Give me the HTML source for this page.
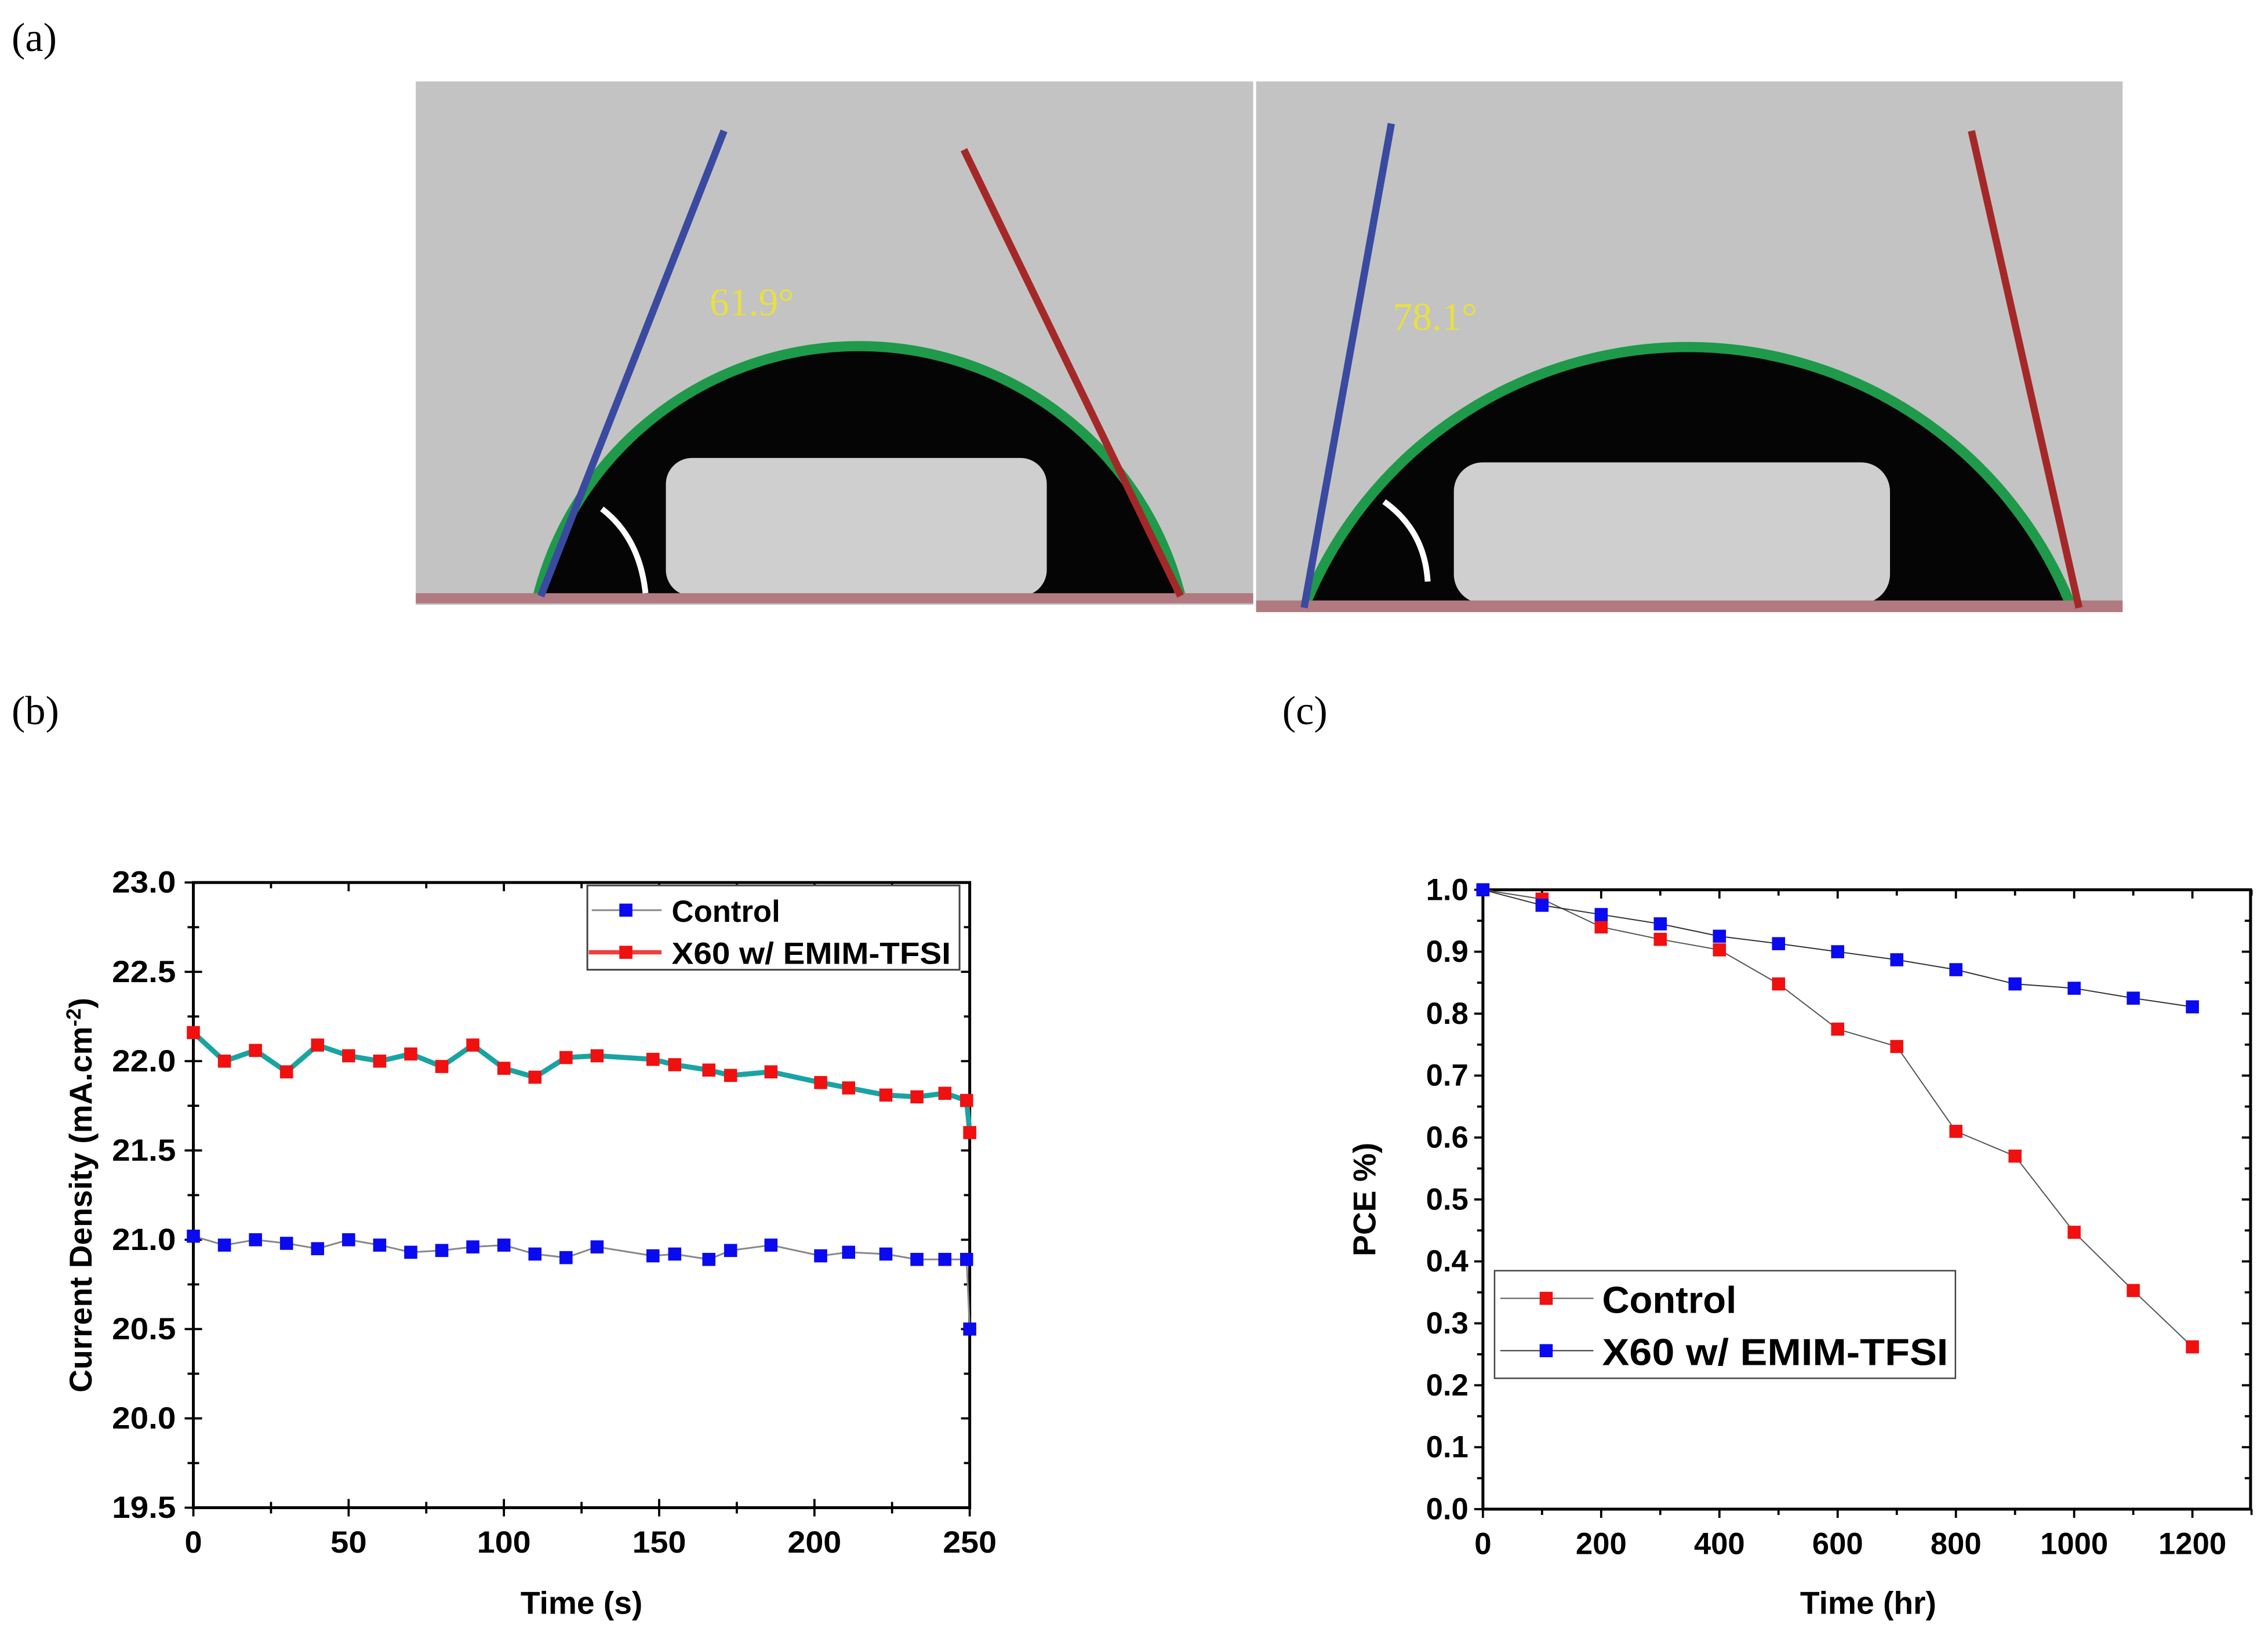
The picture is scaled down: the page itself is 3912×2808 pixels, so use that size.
<!DOCTYPE html>
<html><head><meta charset="utf-8"><style>
html,body{margin:0;padding:0;background:#fff;width:3912px;height:2808px;overflow:hidden}
svg{display:block}
text{font-family:"Liberation Sans",Arial,sans-serif}
</style></head><body>
<svg id="fig" xmlns="http://www.w3.org/2000/svg" width="3912" height="2808" viewBox="0 0 1560 1119.75">
<rect width="1560" height="1120" fill="#fff"/>
<text x="8" y="35" font-size="28" style="font-family:'Liberation Serif',serif">(a)</text>
<text x="8" y="498" font-size="28" style="font-family:'Liberation Serif',serif">(b)</text>
<text x="882" y="498" font-size="28" style="font-family:'Liberation Serif',serif">(c)</text>

<!-- photo 1 -->
<g>
<rect x="286" y="56" width="576" height="360" fill="#c3c3c3"/>
<path d="M370,410 A228,228 0 0 1 812,410 Z" fill="#050505"/>
<path d="M370,410 A228,228 0 0 1 812,410" fill="none" stroke="#1e9a4a" stroke-width="7"/>
<rect x="458" y="315" width="262" height="95" rx="18" fill="#cfcfcf"/>
<rect x="286" y="408" width="576" height="7" fill="#b07a80"/>
<line x1="372" y1="410" x2="498" y2="90" stroke="#3a4aa0" stroke-width="5"/>
<line x1="663" y1="103" x2="812" y2="410" stroke="#a52828" stroke-width="5"/>
<path d="M414,350 Q440,370 444,408" fill="none" stroke="#fff" stroke-width="4"/>
<text x="488" y="217" font-size="27" fill="#e8e040" style="font-family:'Liberation Serif',serif">61.9°</text>
</g>
<!-- photo 2 -->
<g>
<rect x="864" y="56" width="596" height="365" fill="#c3c3c3"/>
<path d="M897,418 A284,284 0 0 1 1425,418 Z" fill="#050505"/>
<path d="M897,418 A284,284 0 0 1 1425,418" fill="none" stroke="#1e9a4a" stroke-width="7"/>
<rect x="1000" y="318" width="300" height="97" rx="20" fill="#cfcfcf"/>
<rect x="864" y="413" width="596" height="8" fill="#b07a80"/>
<line x1="897" y1="418" x2="957" y2="85" stroke="#3a4aa0" stroke-width="5"/>
<line x1="1356" y1="90" x2="1430" y2="418" stroke="#a52828" stroke-width="5"/>
<path d="M952,345 Q980,365 982,400" fill="none" stroke="#fff" stroke-width="4"/>
<text x="958" y="227" font-size="27" fill="#e8e040" style="font-family:'Liberation Serif',serif">78.1°</text>
</g>
<g id="chartB"></g>
<g id="chartC"></g>
</svg>
<script>
// Chart b data
const bTimes = [0,10,20,30,40,50,60,70,80,90,100,110,120,130,148,155,166,173,186,202,211,223,233,242,249,250];
const bControl = [21.02,20.97,21.0,20.98,20.95,21.0,20.97,20.93,20.94,20.96,20.97,20.92,20.9,20.96,20.91,20.92,20.89,20.94,20.97,20.91,20.93,20.92,20.89,20.89,20.89,20.5];
const bX60 = [22.16,22.0,22.06,21.94,22.09,22.03,22.0,22.04,21.97,22.09,21.96,21.91,22.02,22.03,22.01,21.98,21.95,21.92,21.94,21.88,21.85,21.81,21.8,21.82,21.78,21.6];
const bXTicks = [0,50,100,150,200,250];
const bYTicks = [19.5,20.0,20.5,21.0,21.5,22.0,22.5,23.0];
// Chart c data
const cTimes = [0,100,200,300,400,500,600,700,800,900,1000,1100,1200];
const cControl = [1.0,0.985,0.94,0.92,0.903,0.848,0.775,0.747,0.61,0.57,0.447,0.353,0.262];
const cX60 = [1.0,0.975,0.96,0.945,0.925,0.913,0.9,0.887,0.871,0.848,0.841,0.825,0.811];
const cXTicks = [0,200,400,600,800,1000,1200];
const cYTicks = [0.0,0.1,0.2,0.3,0.4,0.5,0.6,0.7,0.8,0.9,1.0];

const NS='http://www.w3.org/2000/svg';
function mk(parent,tag,attrs,txt){const e=document.createElementNS(NS,tag);for(const k in attrs)e.setAttribute(k,attrs[k]);if(txt!==undefined)e.textContent=txt;parent.appendChild(e);return e;}

// ---- chart b
(function(){
const g=document.getElementById('chartB');
const L=133,R=667,T=607,B=1037;
const xs=v=>L+(v-0)/(250-0)*(R-L);
const ys=v=>B-(v-19.5)/(23.0-19.5)*(B-T);
const frame=mk(g,'rect',{x:L,y:T,width:R-L,height:B-T,fill:'none',stroke:'#000','stroke-width':2});


for(let v=0;v<=250;v+=25){const x=xs(v);const len=v%50===0?6:4;
 mk(g,'line',{x1:x,y1:B-len,x2:x,y2:B+len,stroke:'#000','stroke-width':1.5});
 mk(g,'line',{x1:x,y1:T,x2:x,y2:T+len,stroke:'#000','stroke-width':1.5});}
for(let i=0;i<=14;i++){const v=19.5+i*0.25;const y=ys(v);const len=i%2===0?6:4;
 mk(g,'line',{x1:L-len,y1:y,x2:L+len,y2:y,stroke:'#000','stroke-width':1.5});
 mk(g,'line',{x1:R-len,y1:y,x2:R,y2:y,stroke:'#000','stroke-width':1.5});}
bXTicks.forEach(v=>{const t=mk(g,'text',{x:xs(v),y:B+31,'text-anchor':'middle','font-size':21,'font-weight':'bold',textLength:v===0?12:(v<100?25:37),lengthAdjust:'spacingAndGlyphs'},String(v));
 
 });
bYTicks.forEach(v=>{const t=mk(g,'text',{x:L-12,y:ys(v)+7,'text-anchor':'end','font-size':21,'font-weight':'bold',textLength:44,lengthAdjust:'spacingAndGlyphs'},v.toFixed(1));
 
 });
const xt=mk(g,'text',{x:400,y:1110,'text-anchor':'middle','font-size':22,'font-weight':'bold'},'Time (s)');


const yt=mk(g,'text',{x:0,y:0,'text-anchor':'middle','font-size':22,'font-weight':'bold',transform:'translate(63,822) rotate(-90)'},'Current Density (mA.cm');


mk(yt,'tspan',{'baseline-shift':'super','font-size':14},'-2');
mk(yt,'tspan',{},')');
const ptsC=bTimes.map((t,i)=>xs(t)+','+ys(bControl[i])).join(' ');
const lc=mk(g,'polyline',{points:ptsC,fill:'none',stroke:'#888','stroke-width':1.2});


const ptsX=bTimes.map((t,i)=>xs(t)+','+ys(bX60[i])).join(' ');
const lx=mk(g,'polyline',{points:ptsX,fill:'none',stroke:'#1aa3a3','stroke-width':3.5});


bTimes.forEach((t,i)=>{const m=mk(g,'rect',{x:xs(t)-4.5,y:ys(bControl[i])-4.5,width:9,height:9,fill:'#0a0af0'});
 
 
 const n=mk(g,'rect',{x:xs(t)-4.5,y:ys(bX60[i])-4.5,width:9,height:9,fill:'#f01010'});
 
 });
const lg=mk(g,'g',{});


mk(lg,'rect',{x:404,y:609,width:256,height:58,fill:'#fff',stroke:'#444','stroke-width':1.2});
mk(lg,'line',{x1:407,y1:626,x2:455,y2:626,stroke:'#888','stroke-width':1.2});
mk(lg,'rect',{x:426,y:621.5,width:9,height:9,fill:'#0a0af0'});
mk(lg,'text',{x:462,y:634,'font-size':21,'font-weight':'bold'},'Control');
mk(lg,'line',{x1:405,y1:655,x2:455,y2:655,stroke:'#f04040','stroke-width':3});
mk(lg,'rect',{x:426,y:650.5,width:9,height:9,fill:'#f01010'});
mk(lg,'text',{x:462,y:663,'font-size':21,'font-weight':'bold',textLength:192,lengthAdjust:'spacingAndGlyphs'},'X60 w/ EMIM-TFSI');
})();

// ---- chart c
(function(){
const g=document.getElementById('chartC');
const L=1020,R=1548,T=612,B=1038;
const xs=v=>L+(v-0)/(1200-0)*(1508-L);
const ys=v=>B-(v-0)/(1.0-0)*(B-T);
const frame=mk(g,'rect',{x:L,y:T,width:R-L,height:B-T,fill:'none',stroke:'#000','stroke-width':2});


for(let v=0;v<=1300;v+=100){const x=xs(v);const len=v%200===0?6:4;
 mk(g,'line',{x1:x,y1:B,x2:x,y2:B+len,stroke:'#000','stroke-width':1.5});
 mk(g,'line',{x1:x,y1:T,x2:x,y2:T+len,stroke:'#000','stroke-width':1.5});}
for(let i=0;i<=20;i++){const y=ys(i*0.05);const len=i%2===0?6:4;
 mk(g,'line',{x1:L-len,y1:y,x2:L,y2:y,stroke:'#000','stroke-width':1.5});
 mk(g,'line',{x1:R-len,y1:y,x2:R,y2:y,stroke:'#000','stroke-width':1.5});}
cXTicks.forEach(v=>{const t=mk(g,'text',{x:xs(v),y:B+31,'text-anchor':'middle','font-size':21,'font-weight':'bold'},String(v));
 
 });
cYTicks.forEach(v=>{const t=mk(g,'text',{x:L-10,y:ys(v)+7,'text-anchor':'end','font-size':21,'font-weight':'bold'},v.toFixed(1));
 
 });
const xt=mk(g,'text',{x:1285,y:1110,'text-anchor':'middle','font-size':22,'font-weight':'bold'},'Time (hr)');


const yt=mk(g,'text',{x:0,y:0,'text-anchor':'middle','font-size':22,'font-weight':'bold',transform:'translate(946,825) rotate(-90)'},'PCE %)');


const ptsC=cTimes.map((t,i)=>xs(t)+','+ys(cControl[i])).join(' ');
const lc=mk(g,'polyline',{points:ptsC,fill:'none',stroke:'#555','stroke-width':0.8});


const ptsX=cTimes.map((t,i)=>xs(t)+','+ys(cX60[i])).join(' ');
const lx=mk(g,'polyline',{points:ptsX,fill:'none',stroke:'#333','stroke-width':0.8});


cTimes.forEach((t,i)=>{const m=mk(g,'rect',{x:xs(t)-4.5,y:ys(cControl[i])-4.5,width:9,height:9,fill:'#f01010'});
 
 });
cTimes.forEach((t,i)=>{const n=mk(g,'rect',{x:xs(t)-4.5,y:ys(cX60[i])-4.5,width:9,height:9,fill:'#0a0af0'});
 
 });
const lg=mk(g,'g',{});


mk(lg,'rect',{x:1028,y:874,width:317,height:74,fill:'#fff',stroke:'#444','stroke-width':1});
mk(lg,'line',{x1:1032,y1:893,x2:1096,y2:893,stroke:'#555','stroke-width':0.8});
mk(lg,'rect',{x:1059,y:888.5,width:9,height:9,fill:'#f01010'});
mk(lg,'text',{x:1102,y:903,'font-size':26,'font-weight':'bold'},'Control');
mk(lg,'line',{x1:1032,y1:929,x2:1096,y2:929,stroke:'#333','stroke-width':0.8});
mk(lg,'rect',{x:1059,y:924.5,width:9,height:9,fill:'#0a0af0'});
mk(lg,'text',{x:1102,y:939,'font-size':26,'font-weight':'bold',textLength:238,lengthAdjust:'spacingAndGlyphs'},'X60 w/ EMIM-TFSI');
})();
</script>
</body></html>
